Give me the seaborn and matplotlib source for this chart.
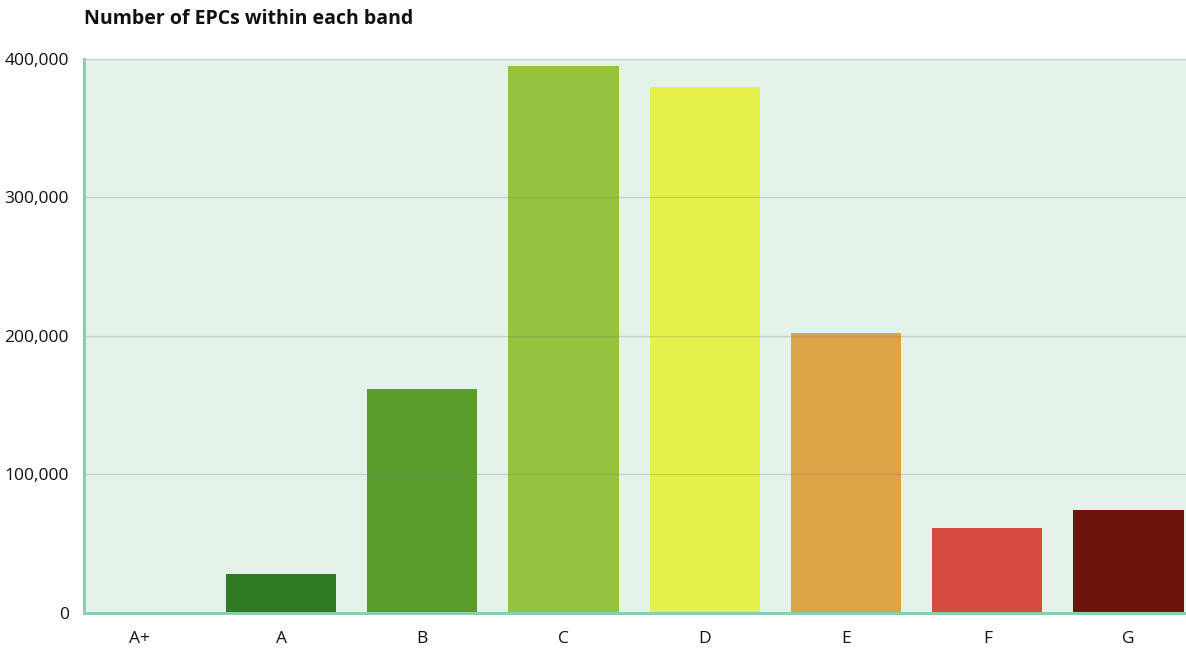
import matplotlib
matplotlib.use("Agg")
import matplotlib.pyplot as plt
import seaborn as sns
import pandas as pd
from matplotlib.ticker import FuncFormatter

bands = ["A+", "A", "B", "C", "D", "E", "F", "G"]
counts = [800, 28000, 162000, 395000, 380000, 202000, 61500, 74500]
colors = ["#2e7a23", "#2f7a24", "#5a9d2c", "#96c33d", "#e5f14a", "#dba447", "#d64b40", "#6b140e"]
yticks = [0, 100000, 200000, 300000, 400000]

sns.set_theme(style="white")
plt.rcParams["font.family"] = ["Open Sans", "DejaVu Sans"]

df = pd.DataFrame({"band": bands, "count": counts})

fig = plt.figure(figsize=(11.86, 6.48), dpi=100)
ax = fig.add_axes([0.0708, 0.054, 0.9292, 0.855])
ax.set_facecolor("#e4f2e9")

sns.barplot(data=df, x="band", y="count", hue="band", palette=colors,
            legend=False, width=0.78, ax=ax, saturation=1, zorder=2,
            linewidth=0, edgecolor="none")

ax.set_xlim(-0.395, 7.407)
ax.set_ylim(0, 400000)
ax.set_yticks(yticks)
ax.yaxis.set_major_formatter(FuncFormatter(lambda v, p: f"{int(v):,}"))
ax.set_axisbelow(False)
ax.grid(axis="y", color="#707070", alpha=0.25, linestyle="-", linewidth=1.0, zorder=3)

for s in ["top", "right"]:
    ax.spines[s].set_visible(False)
for s in ["left", "bottom"]:
    ax.spines[s].set_color("#86d0ad")
    ax.spines[s].set_linewidth(2.2)
    ax.spines[s].set_zorder(4)
ax.axhline(400000, color="#c9ccca", linewidth=1.5, zorder=3)

ax.tick_params(axis="both", length=0, labelsize=12.5, labelcolor="#111111")
ax.tick_params(axis="x", pad=13)
ax.tick_params(axis="y", pad=11)
ax.set_xlabel("")
ax.set_ylabel("")

fig.text(0.0708, 0.97, "Number of EPCs within each band", fontsize=14,
         fontweight="bold", color="#111111", ha="left", va="center")

fig.savefig("out.png", dpi=100)
